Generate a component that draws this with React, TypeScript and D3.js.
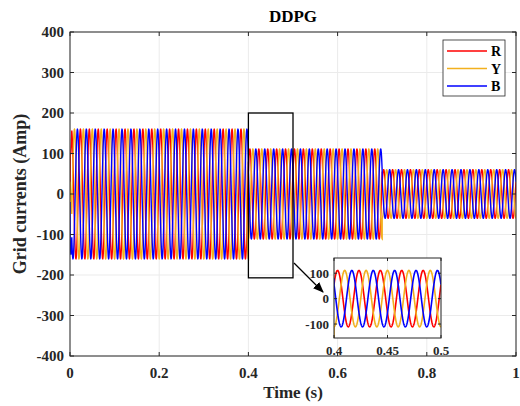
import React from "react";
import * as d3 from "d3";

// ---- data ----
const segStart = [0, 0.4, 0.7];      // s, start of each load step
const segEnd = [0.4, 0.7, 1.0];
const segAmp = [160, 111, 60];       // Amp, peak of grid current in each step
const freqHz = 50;
const phaseDeg = { R: 30, Y: -90, B: 150 };
// startup transient (first few ms)
const startT = [0, 0.0005, 0.002, 0.0035];
const startR = [0, 100, 100, 140];
const startY = [20, 30, -10, -40];
const startB = [-20, -120, -150, -120];

const xTicks = [0, 0.2, 0.4, 0.6, 0.8, 1];
const yTicks = [-400, -300, -200, -100, 0, 100, 200, 300, 400];
const insetXTicks = [0.4, 0.45, 0.5];
const insetYTicks = [-100, 0, 100];
const seriesNames = ["R", "Y", "B"];
const colors: Record<string, string> = { R: "#ff0000", Y: "#f2b01e", B: "#0000ff" };

const dt = 0.0002;
function buildSeries(name: string, start: number[]) {
  const pts: [number, number][] = startT.map((t, i) => [t, start[i]]);
  const ph = (phaseDeg as any)[name] * Math.PI / 180;
  for (let s = 0; s < segStart.length; s++) {
    const t0 = Math.max(segStart[s], 0.004);
    for (let t = t0; t <= segEnd[s] + 1e-9; t += dt) {
      pts.push([t, segAmp[s] * Math.sin(2 * Math.PI * freqHz * t + ph)]);
    }
  }
  return pts;
}
const data: Record<string, [number, number][]> = {
  R: buildSeries("R", startR),
  Y: buildSeries("Y", startY),
  B: buildSeries("B", startB),
};

const FONT = "'Liberation Serif', 'Times New Roman', serif";

export default function App() {
  const W = 520, H = 406;
  const L = 70, R = 516, T = 32, B = 356;
  const x = d3.scaleLinear().domain([0, 1]).range([L, R]);
  const y = d3.scaleLinear().domain([-400, 400]).range([B, T]);
  const line = d3.line<[number, number]>().x(d => x(d[0])).y(d => y(d[1]));

  // inset
  const iL = 334, iR = 441, iT = 258, iB = 338;
  const ix = d3.scaleLinear().domain([0.4, 0.5]).range([iL, iR]);
  const iy = d3.scaleLinear().domain([-155, 160]).range([iB, iT]);
  const iline = d3.line<[number, number]>().x(d => ix(d[0])).y(d => iy(d[1]));
  const insetData = (n: string) => data[n].filter(d => d[0] >= 0.4 - 1e-9 && d[0] <= 0.5 + 1e-9);

  return (
    <svg width={W} height={H} style={{ position: "absolute", left: 0, top: 0, background: "#fff" }}>
      <defs>
        <clipPath id="clipMain"><rect x={L} y={T} width={R - L} height={B - T} /></clipPath>
        <clipPath id="clipInset"><rect x={iL} y={iT} width={iR - iL} height={iB - iT} /></clipPath>
        <marker id="arrow" viewBox="0 0 10 10" refX="9" refY="5" markerWidth="9" markerHeight="9" orient="auto">
          <path d="M0,1 L10,5 L0,9 z" fill="#000" />
        </marker>
      </defs>
      <rect x={0} y={0} width={W} height={H} fill="#fff" />
      {/* grid */}
      {xTicks.map(t => <line key={"gx" + t} x1={x(t)} x2={x(t)} y1={T} y2={B} stroke="#ebebeb" strokeWidth={1} />)}
      {yTicks.map(t => <line key={"gy" + t} x1={L} x2={R} y1={y(t)} y2={y(t)} stroke="#ebebeb" strokeWidth={1} />)}
      {/* series */}
      <g clipPath="url(#clipMain)">
        {seriesNames.map(n => (
          <path key={n} d={line(data[n]) || ""} fill="none" stroke={colors[n]} strokeWidth={1.4} />
        ))}
      </g>
      {/* axes box and ticks */}
      <rect x={L} y={T} width={R - L} height={B - T} fill="none" stroke="#262626" strokeWidth={1} />
      {xTicks.map(t => (
        <g key={"tx" + t}>
          <line x1={x(t)} x2={x(t)} y1={B} y2={B - 4} stroke="#262626" />
          <line x1={x(t)} x2={x(t)} y1={T} y2={T + 4} stroke="#262626" />
          <text x={x(t)} y={378} textAnchor="middle" fontFamily={FONT} fontWeight="bold" fontSize={15} fill="#262626">{t}</text>
        </g>
      ))}
      {yTicks.map(t => (
        <g key={"ty" + t}>
          <line x1={L} x2={L + 4} y1={y(t)} y2={y(t)} stroke="#262626" />
          <line x1={R} x2={R - 4} y1={y(t)} y2={y(t)} stroke="#262626" />
          <text x={L - 6} y={y(t) + 5} textAnchor="end" fontFamily={FONT} fontWeight="bold" fontSize={15} fill="#262626">{t}</text>
        </g>
      ))}
      <text x={(L + R) / 2} y={22} textAnchor="middle" fontFamily={FONT} fontWeight="bold" fontSize={17} fill="#000">DDPG</text>
      <text x={(L + R) / 2} y={398} textAnchor="middle" fontFamily={FONT} fontWeight="bold" fontSize={17} fill="#262626">Time (s)</text>
      <text transform={`translate(26,${(T + B) / 2}) rotate(-90)`} textAnchor="middle" fontFamily={FONT} fontWeight="bold" fontSize={18} fill="#262626">Grid currents (Amp)</text>

      {/* zoom rectangle and arrow */}
      <rect x={x(0.4)} y={y(200)} width={x(0.5) - x(0.4)} height={y(-207) - y(200)} fill="none" stroke="#000" strokeWidth={1.3} />
      <line x1={294} y1={263} x2={323} y2={292} stroke="#000" strokeWidth={1.2} markerEnd="url(#arrow)" />

      {/* legend */}
      <rect x={443} y={40} width={62} height={56} fill="#fff" stroke="#262626" strokeWidth={0.8} />
      {seriesNames.map((n, i) => (
        <g key={"lg" + n}>
          <line x1={447} x2={487} y1={51 + i * 17.5} y2={51 + i * 17.5} stroke={colors[n]} strokeWidth={1.3} />
          <text x={491} y={56 + i * 17.5} fontFamily={FONT} fontWeight="bold" fontSize={14} fill="#000">{n}</text>
        </g>
      ))}

      {/* inset */}
      <rect x={iL} y={iT} width={iR - iL} height={iB - iT} fill="#fff" />
      {insetXTicks.map(t => <line key={"igx" + t} x1={ix(t)} x2={ix(t)} y1={iT} y2={iB} stroke="#ebebeb" />)}
      {insetYTicks.map(t => <line key={"igy" + t} x1={iL} x2={iR} y1={iy(t)} y2={iy(t)} stroke="#ebebeb" />)}
      <g clipPath="url(#clipInset)">
        {seriesNames.map(n => (
          <path key={"i" + n} d={iline(insetData(n)) || ""} fill="none" stroke={colors[n]} strokeWidth={1.6} />
        ))}
      </g>
      <rect x={iL} y={iT} width={iR - iL} height={iB - iT} fill="none" stroke="#262626" strokeWidth={1} />
      {insetXTicks.map(t => (
        <g key={"itx" + t}>
          <line x1={ix(t)} x2={ix(t)} y1={iB} y2={iB - 3} stroke="#262626" />
          <line x1={ix(t)} x2={ix(t)} y1={iT} y2={iT + 3} stroke="#262626" />
          <text x={ix(t)} y={355} textAnchor="middle" fontFamily={FONT} fontWeight="bold" fontSize={13} fill="#262626">{t}</text>
        </g>
      ))}
      {insetYTicks.map(t => (
        <g key={"ity" + t}>
          <line x1={iL} x2={iL + 3} y1={iy(t)} y2={iy(t)} stroke="#262626" />
          <line x1={iR} x2={iR - 3} y1={iy(t)} y2={iy(t)} stroke="#262626" />
          <text x={iL - 5} y={iy(t) + 4.5} textAnchor="end" fontFamily={FONT} fontWeight="bold" fontSize={13} fill="#262626">{t}</text>
        </g>
      ))}
    </svg>
  );
}
